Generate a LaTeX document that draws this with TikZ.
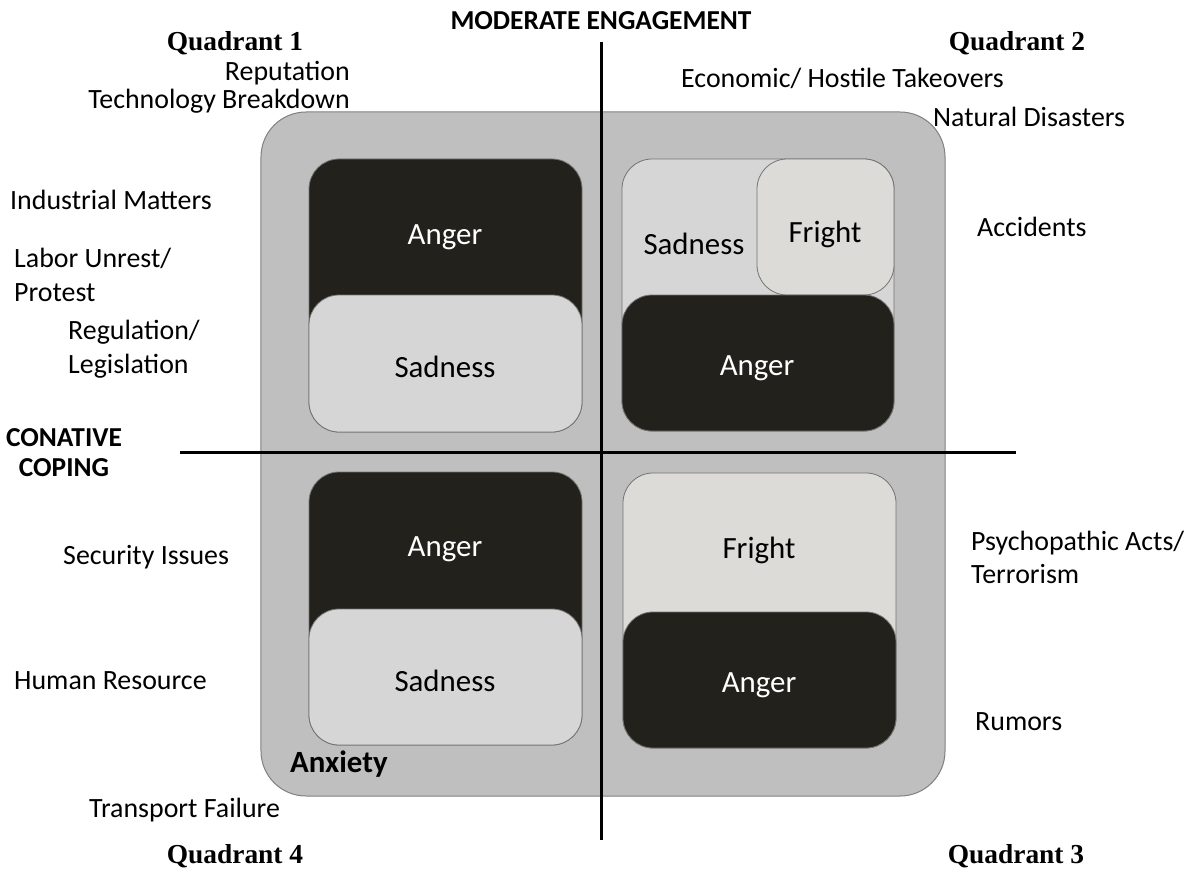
\documentclass[tikz,border=0pt]{standalone}
\usepackage{fontspec}
\setmainfont{Carlito}
\newfontfamily\quadfont{Liberation Serif}
\begin{document}
\begin{tikzpicture}[x=1bp,y=-1bp,
  outerbox/.style={draw=black!50, line width=1bp, fill=black!25, rounded corners=45bp, inner sep=0},
  darkbox/.style={draw=black!55, line width=0.8bp, fill={rgb,255:red,34;green,33;blue,28}, rounded corners=30bp, inner sep=0},
  lightbox/.style={draw=black!55, line width=0.8bp, fill={rgb,255:red,214;green,214;blue,214}, rounded corners=30bp, inner sep=0},
  frightbox/.style={draw=black!55, line width=0.8bp, fill={rgb,255:red,220;green,219;blue,216}, rounded corners=30bp, inner sep=0},
  axis/.style={line width=3bp, black},
  emo/.style={font=\fontsize{31}{36}\selectfont, inner sep=0},
  emowhite/.style={emo, text=white},
  side/.style={font=\fontsize{28}{34}\selectfont, inner sep=0, align=left},
  heading/.style={font=\fontsize{27.5}{30}\selectfont\bfseries, inner sep=0, align=center},
  quad/.style={font=\quadfont\fontsize{27.5}{32}\selectfont\bfseries, inner sep=0}]
\useasboundingbox (0,0) rectangle (1194,869);

% outer frame
\node[outerbox, minimum width=684bp, minimum height=684bp] (frame) at (603,454) {};

% quadrant 1
\node[darkbox, minimum width=273bp, minimum height=273bp] (q1anger) at (445.5,295.5) {};
\node[lightbox, minimum width=273bp, minimum height=137bp] (q1sad) at (445.5,363.5) {};
\node[emowhite] (q1angert) at (445,237) {Anger};
\node[emo] (q1sadt) at (445,367) {Sadness};

% quadrant 2
\node[lightbox, minimum width=272bp, minimum height=272bp] (q2sad) at (758,295) {};
\node[frightbox, minimum width=137bp, minimum height=136bp] (q2fright) at (825.5,227) {};
\node[darkbox, minimum width=272bp, minimum height=136bp] (q2anger) at (758,363) {};
\node[emo] (q2sadt) at (694,244) {Sadness};
\node[emo] (q2frightt) at (825,234) {Fright};
\node[emowhite] (q2angert) at (757,368) {Anger};

% quadrant 4
\node[darkbox, minimum width=273bp, minimum height=273bp] (q4anger) at (445.5,608.5) {};
\node[lightbox, minimum width=273bp, minimum height=136bp] (q4sad) at (445.5,677) {};
\node[emowhite] (q4angert) at (445,549) {Anger};
\node[emo] (q4sadt) at (445,681) {Sadness};

% quadrant 3
\node[frightbox, minimum width=273bp, minimum height=275bp] (q3fright) at (759.5,610.5) {};
\node[darkbox, minimum width=273bp, minimum height=136bp] (q3anger) at (759.5,680) {};
\node[emo] (q3frightt) at (759,550) {Fright};
\node[emowhite] (q3angert) at (759,685) {Anger};

\node[emo, font=\fontsize{31}{36}\selectfont\bfseries, anchor=west] (anx) at (290,764) {Anxiety};

% axes
\coordinate (vtop) at (601.5,42);
\coordinate (vbot) at (601.5,840);
\coordinate (hleft) at (180,452);
\coordinate (hright) at (1016,452);
\draw[axis] (vtop) -- (vbot);
\draw[axis] (hleft) -- (hright);

% axis titles
\node[heading] (engage) at (601,21) {MODERATE ENGAGEMENT};
\node[heading] (conative) at (64,453) {CONATIVE\\COPING};

% quadrant titles
\node[quad] (qa) at (235,43) {Quadrant 1};
\node[quad] (qb) at (1017,43) {Quadrant 2};
\node[quad] (qc) at (1016,856) {Quadrant 3};
\node[quad] (qd) at (235,856) {Quadrant 4};

% crisis types
\node[side, anchor=east] (rep) at (350,73) {Reputation};
\node[side, anchor=east] (tech) at (350,101) {Technology Breakdown};
\node[side, anchor=west] (econ) at (681,78) {Economic/ Hostile Takeovers};
\node[side, anchor=west] (nat) at (933,117) {Natural Disasters};
\node[side, anchor=west] (acc) at (977,227) {Accidents};
\node[side, anchor=west] (ind) at (10,200) {Industrial Matters};
\node[side, anchor=west] (labor) at (14,275) {Labor Unrest/\\Protest};
\node[side, anchor=west] (reg) at (68,349) {Regulation/\\Legislation};
\node[side, anchor=west] (sec) at (63,557) {Security Issues};
\node[side, anchor=west] (hr) at (14,681) {Human Resource};
\node[side, anchor=west] (trans) at (89,810) {Transport Failure};
\node[side, anchor=west, font=\fontsize{28}{33}\selectfont] (psy) at (971,557) {Psychopathic Acts/\\Terrorism};
\node[side, anchor=west] (rum) at (975,722) {Rumors};
\end{tikzpicture}
\end{document}
